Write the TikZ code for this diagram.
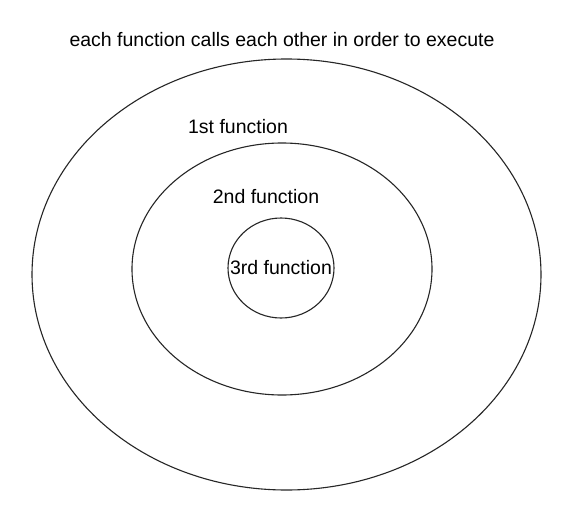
\documentclass[tikz,border=0pt]{standalone}
\usepackage{fontspec}
\setmainfont{Liberation Sans}
\usetikzlibrary{shapes.geometric}
\begin{document}
\begin{tikzpicture}[x=1pt,y=-1pt,
  ring/.style={draw=black!85,line width=1.1pt,ellipse,inner sep=0pt},
  lbl/.style={font=\fontsize{19.5}{22}\selectfont,inner sep=0pt,text=black}]
\useasboundingbox (0,0) rectangle (570,506);
\fill[white] (0,0) rectangle (570,506);
\node[ring,minimum width=509,minimum height=431] (outer) at (286.5,274.5) {};
\node[ring,minimum width=300,minimum height=252] (middle) at (282,269) {};
\node[ring,minimum width=106,minimum height=100] (inner) at (281,268) {};
\node[lbl] (title) at (282,40) {each function calls each other in order to execute};
\node[lbl] (first) at (238,127) {1st function};
\node[lbl] (second) at (266,197) {2nd function};
\node[lbl] (third) at (281,268) {3rd function};
\end{tikzpicture}
\end{document}
